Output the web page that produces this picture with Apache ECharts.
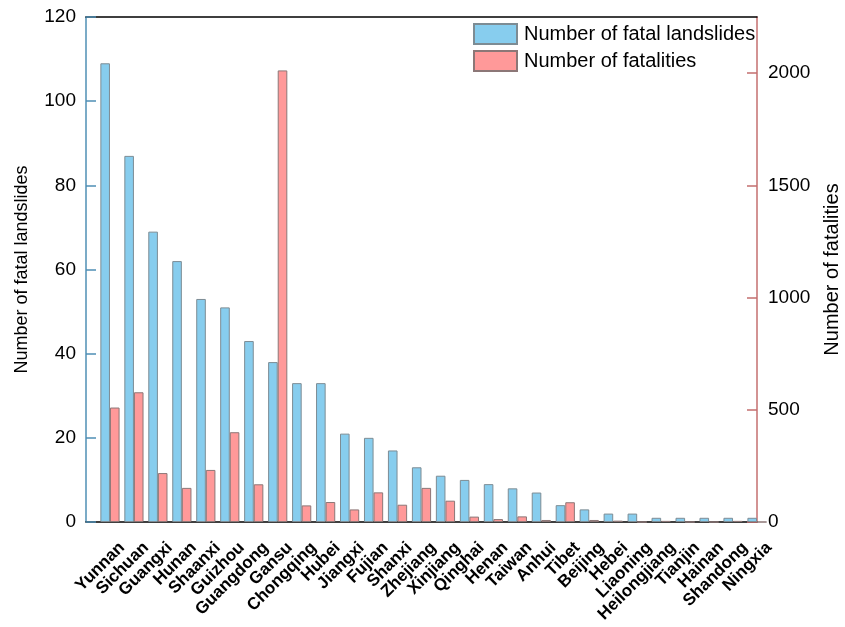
<!DOCTYPE html>
<html>
<head>
<meta charset="utf-8">
<script src="https://cdn.jsdelivr.net/npm/echarts@6/dist/echarts.min.js"></script>
<style>
  html, body { margin: 0; padding: 0; background: #fff; overflow: hidden; }
  #chart { width: 845px; height: 627px; }
</style>
</head>
<body>
<div id="chart"></div>
<script>
// Provinces, ordered by number of fatal landslides
const provinces = ['Yunnan', 'Sichuan', 'Guangxi', 'Hunan', 'Shaanxi', 'Guizhou', 'Guangdong',
  'Gansu', 'Chongqing', 'Hubei', 'Jiangxi', 'Fujian', 'Shanxi', 'Zhejiang', 'Xinjiang',
  'Qinghai', 'Henan', 'Taiwan', 'Anhui', 'Tibet', 'Beijing', 'Hebei', 'Liaoning',
  'Heilongjiang', 'Tianjin', 'Hainan', 'Shandong', 'Ningxia'];

const fatalLandslides = [109, 87, 69, 62, 53, 51, 43, 38, 33, 33, 21, 20, 17, 13, 11,
  10, 9, 8, 7, 4, 3, 2, 2, 1, 1, 1, 1, 1];

const fatalities = [510, 578, 218, 152, 232, 400, 168, 2012, 74, 89, 56, 132, 77, 152, 95,
  24, 13, 25, 9, 88, 9, 6, 0, 5, 0, 0, 5, 0];

const FONT = '"Liberation Sans", Arial, sans-serif';
const LEFT_COLOR = '#4f8fb5';
const RIGHT_COLOR = '#c46f6f';
const W = 845, H = 627;

// bars sit on integer positions 1..N of a 0..N axis
const pairs = (vals) => vals.map((v, i) => [i + 1, v]);

const dom = document.getElementById('chart');
const chart = echarts.init(dom, null, { renderer: 'canvas', width: W, height: H });

const plot = { left: 86, right: 88, top: 17, bottom: 105 };
// the slanted province names hang slightly right of their bar pair
const labelShift = 12;

chart.setOption({
  backgroundColor: '#ffffff',
  animation: false,
  textStyle: { fontFamily: FONT },
  grid: [
    { left: plot.left, right: plot.right, top: plot.top, bottom: plot.bottom,
      containLabel: false, outerBoundsMode: 'none' },
    { left: plot.left + labelShift, right: plot.right - labelShift, top: plot.top, bottom: plot.bottom,
      containLabel: false, outerBoundsMode: 'none' }
  ],
  legend: {
    orient: 'vertical',
    left: 473,
    top: 23,
    padding: 0,
    itemWidth: 43,
    itemHeight: 20,
    itemGap: 5,
    icon: 'rect',
    textStyle: { fontFamily: FONT, fontSize: 20, color: '#000', padding: [0, 0, 0, 2] },
    data: ['Number of fatal landslides', 'Number of fatalities']
  },
  xAxis: [
    {
      type: 'value',
      gridIndex: 0,
      min: 0,
      max: provinces.length,
      interval: 1,
      position: 'bottom',
      splitLine: { show: false },
      axisTick: { show: false },
      axisLabel: { show: false },
      axisLine: { show: true, onZero: false, lineStyle: { color: '#000', width: 1.5 } }
    },
    {
      type: 'value',
      gridIndex: 0,
      min: 0,
      max: provinces.length,
      position: 'top',
      splitLine: { show: false },
      axisTick: { show: false },
      axisLabel: { show: false },
      axisLine: { show: true, onZero: false, lineStyle: { color: '#000', width: 1.5 } }
    },
    {
      // province names
      type: 'value',
      gridIndex: 1,
      min: 0,
      max: provinces.length,
      interval: 1,
      position: 'bottom',
      splitLine: { show: false },
      axisTick: { show: false },
      axisLine: { show: false },
      axisLabel: {
        rotate: 45,
        margin: 23,
        fontFamily: FONT,
        fontSize: 17,
        fontWeight: 'bold',
        color: '#000',
        showMinLabel: false,
        showMaxLabel: true,
        hideOverlap: false,
        formatter: (v) => provinces[v - 1] || ''
      }
    }
  ],
  yAxis: [
    {
      type: 'value',
      gridIndex: 0,
      min: 0,
      max: 120,
      interval: 20,
      position: 'left',
      name: 'Number of fatal landslides',
      nameLocation: 'middle',
      nameRotate: 90,
      nameGap: 55,
      nameTextStyle: { fontFamily: FONT, fontSize: 18, color: '#000' },
      splitLine: { show: false },
      axisLine: { show: true, onZero: false, lineStyle: { color: LEFT_COLOR, width: 1.5 } },
      axisTick: { show: true, inside: true, length: 10, lineStyle: { color: LEFT_COLOR, width: 1.5 } },
      axisLabel: { margin: 10, fontFamily: FONT, fontSize: 19, color: '#000', formatter: (v) => String(v) }
    },
    {
      type: 'value',
      gridIndex: 0,
      min: 0,
      max: 2250,
      interval: 500,
      position: 'right',
      name: 'Number of fatalities',
      nameLocation: 'middle',
      nameRotate: 90,
      nameGap: 65,
      nameTextStyle: { fontFamily: FONT, fontSize: 20, color: '#000' },
      splitLine: { show: false },
      axisLine: { show: true, onZero: false, lineStyle: { color: RIGHT_COLOR, width: 1.5 } },
      axisTick: { show: true, inside: true, length: 10, lineStyle: { color: RIGHT_COLOR, width: 1.5 } },
      axisLabel: {
        margin: 11, fontFamily: FONT, fontSize: 19, color: '#000', showMaxLabel: false,
        formatter: (v) => String(v)
      }
    },
    {
      type: 'value',
      gridIndex: 1,
      min: 0,
      max: 1,
      show: false
    }
  ],
  series: [
    {
      name: 'Number of fatal landslides',
      type: 'bar',
      xAxisIndex: 0,
      yAxisIndex: 0,
      barWidth: 9.6,
      barGap: '0%',
      itemStyle: { color: '#87cdee', borderColor: '#7d8c94', borderWidth: 1 },
      data: pairs(fatalLandslides)
    },
    {
      name: 'Number of fatalities',
      type: 'bar',
      xAxisIndex: 0,
      yAxisIndex: 1,
      barWidth: 9.6,
      barGap: '0%',
      itemStyle: { color: '#ff9999', borderColor: '#8c7777', borderWidth: 1 },
      data: pairs(fatalities)
    }
  ]
});
</script>
</body>
</html>
